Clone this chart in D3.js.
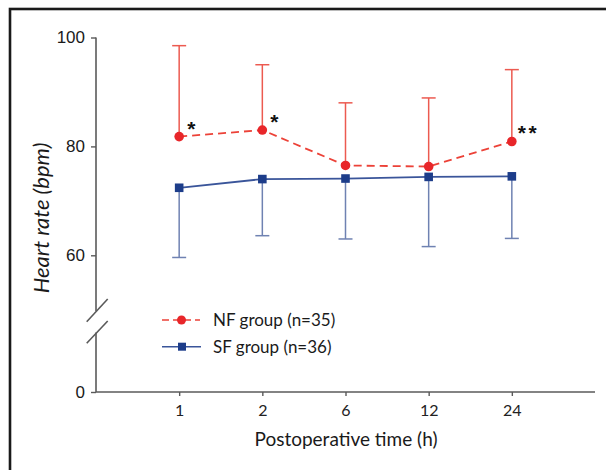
<!DOCTYPE html>
<html><head><meta charset="utf-8">
<script src="https://cdn.jsdelivr.net/npm/d3@7"></script>
<style>html,body{margin:0;padding:0;background:#fff;}svg{display:block;}</style>
</head><body>
<svg id="c" width="606" height="470"></svg>
<script>
const times = ["1","2","6","12","24"];
const nfMean = [81.8, 83.0, 76.5, 76.3, 80.9];
const nfUpper = [98.5, 95.0, 88.0, 88.9, 94.1];
const sfMean = [72.4, 74.0, 74.1, 74.4, 74.5];
const sfLower = [59.6, 63.6, 63.0, 61.6, 63.1];
const yTicks = [100, 80, 60];
const yBreakTick = [0];
const signif = ["*", "*", "", "", "**"];
const legendLabels = ["NF group (n=35)", "SF group (n=36)"];

const svg = d3.select("#c");
const red = "#e8262a", redLine = "#ec4238", redErr = "#ec5a50";
const blue = "#1d3d8a", blueLine = "#3a559a", blueErr = "#6f82b2";
const axisCol = "#5a5a5a";
const txtFont = "Lato, 'Open Sans', sans-serif";

// frame
svg.append("rect").attr("x",10).attr("y",9).attr("width",640).attr("height",500)
  .attr("fill","none").attr("stroke","#1a1a1a").attr("stroke-width",2.6);

const x = d3.scalePoint().domain(times).range([96,595]).padding(1);
const y = d3.scaleLinear().domain([60,100]).range([255.3,37.5]);
const y0 = d3.scaleLinear().domain([0,10]).range([392,332]);

// y axis upper
const yAx = svg.append("g").attr("transform","translate(96,0)")
  .call(d3.axisLeft(y).tickValues(yTicks).tickSize(5).tickSizeOuter(0).tickPadding(6));
yAx.select(".domain").remove();
yAx.append("line").attr("x1",0).attr("x2",0).attr("y1",y(100)).attr("y2",311).attr("stroke",axisCol).attr("stroke-width",1.6);
yAx.selectAll(".tick line").attr("stroke",axisCol).attr("stroke-width",1.4);
yAx.selectAll(".tick text").attr("font-family","'Liberation Sans', Arial, sans-serif").attr("font-size",17).attr("fill","#1a1a1a");

const yAx0 = svg.append("g").attr("transform","translate(96,0)")
  .call(d3.axisLeft(y0).tickValues(yBreakTick).tickSize(5).tickSizeOuter(0).tickPadding(6));
yAx0.select(".domain").remove();
yAx0.append("line").attr("x1",0).attr("x2",0).attr("y1",332.5).attr("y2",y0(0)).attr("stroke",axisCol).attr("stroke-width",1.6);
yAx0.selectAll(".tick line").attr("stroke",axisCol).attr("stroke-width",1.4);
yAx0.selectAll(".tick text").attr("font-family","'Liberation Sans', Arial, sans-serif").attr("font-size",17).attr("fill","#1a1a1a");

// break marks
[[321.7,299],[343.3,321]].forEach(([ya,yb])=>{
  svg.append("line").attr("x1",86.7).attr("y1",ya).attr("x2",107.7).attr("y2",yb)
    .attr("stroke",axisCol).attr("stroke-width",1.6);
});

// x axis
const xAx = svg.append("g").attr("transform",`translate(0,${y0(0)})`)
  .call(d3.axisBottom(x).tickSize(4).tickSizeOuter(0).tickPadding(9));
xAx.select(".domain").attr("stroke",axisCol).attr("stroke-width",1.6).attr("d","M96,0H595");
xAx.selectAll(".tick line").attr("stroke",axisCol).attr("stroke-width",1.4);
xAx.selectAll(".tick text").attr("font-family",txtFont).attr("font-size",16).attr("fill","#222");

// axis titles
svg.append("text").attr("x",346).attr("y",446).attr("text-anchor","middle")
  .attr("font-family",txtFont).attr("font-size",19).attr("fill","#1a1a1a").text("Postoperative time (h)");
svg.append("text").attr("transform","translate(49,218) rotate(-90)").attr("text-anchor","middle")
  .attr("font-family",txtFont).attr("font-style","italic").attr("font-size",22).attr("fill","#1a1a1a").text("Heart rate (bpm)");

// error bars
const cap = 7;
times.forEach((t,i)=>{
  const g = svg.append("g");
  g.append("line").attr("x1",x(t)).attr("x2",x(t)).attr("y1",y(nfMean[i])).attr("y2",y(nfUpper[i])).attr("stroke",redErr).attr("stroke-width",1.5);
  g.append("line").attr("x1",x(t)-cap).attr("x2",x(t)+cap).attr("y1",y(nfUpper[i])).attr("y2",y(nfUpper[i])).attr("stroke",redErr).attr("stroke-width",1.5);
  g.append("line").attr("x1",x(t)).attr("x2",x(t)).attr("y1",y(sfMean[i])).attr("y2",y(sfLower[i])).attr("stroke",blueErr).attr("stroke-width",1.5);
  g.append("line").attr("x1",x(t)-cap).attr("x2",x(t)+cap).attr("y1",y(sfLower[i])).attr("y2",y(sfLower[i])).attr("stroke",blueErr).attr("stroke-width",1.5);
});

// lines
const lineGen = arr => d3.line().x((d,i)=>x(times[i])).y(d=>y(d))(arr);
svg.append("path").attr("d",lineGen(sfMean)).attr("fill","none").attr("stroke",blueLine).attr("stroke-width",1.8);
svg.append("path").attr("d",lineGen(nfMean)).attr("fill","none").attr("stroke",redLine).attr("stroke-width",1.8).attr("stroke-dasharray","8,5");

// markers
svg.selectAll(".sq").data(sfMean).join("rect").attr("x",(d,i)=>x(times[i])-4.3).attr("y",d=>y(d)-4.3)
  .attr("width",8.6).attr("height",8.6).attr("fill",blue);
svg.selectAll(".ci").data(nfMean).join("circle").attr("cx",(d,i)=>x(times[i])).attr("cy",d=>y(d)).attr("r",4.8).attr("fill",red);

// significance marks
svg.selectAll(".sig").data(signif).join("text").attr("x",(d,i)=>x(times[i])+(d.length>1?6:8)).attr("y",(d,i)=>y(nfMean[i])-1)
  .attr("font-family","'Liberation Sans', Arial, sans-serif").attr("font-weight","bold").attr("font-size",21).attr("fill","#111")
  .attr("letter-spacing",2.5).text(d=>d);

// legend
const lg = svg.append("g");
const ly = [320, 346.7];
lg.append("line").attr("x1",162).attr("x2",200).attr("y1",ly[0]).attr("y2",ly[0]).attr("stroke",redLine).attr("stroke-width",1.5).attr("stroke-dasharray","7,4");
lg.append("circle").attr("cx",181.5).attr("cy",ly[0]).attr("r",4.5).attr("fill",red);
lg.append("line").attr("x1",162).attr("x2",201).attr("y1",ly[1]).attr("y2",ly[1]).attr("stroke",blueLine).attr("stroke-width",1.6);
lg.append("rect").attr("x",182-4).attr("y",ly[1]-4).attr("width",8).attr("height",8).attr("fill",blue);
lg.selectAll("text").data(legendLabels).join("text").attr("x",213).attr("y",(d,i)=>ly[i]).attr("dy","0.35em")
  .attr("font-family",txtFont).attr("font-size",17).attr("fill","#1a1a1a").text(d=>d);
</script>
</body></html>
